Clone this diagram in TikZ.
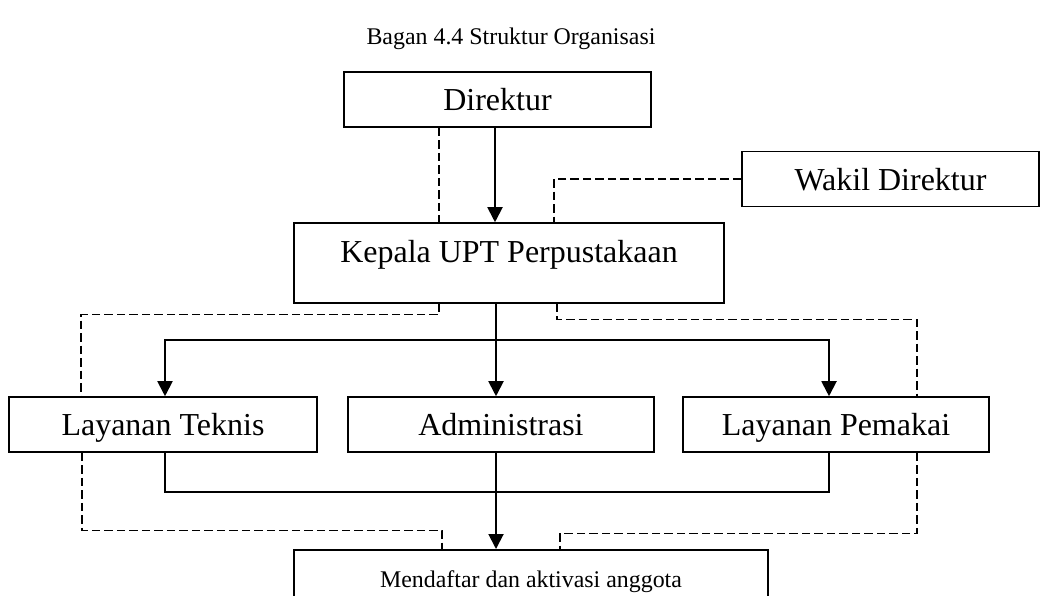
\documentclass[tikz,border=0pt]{standalone}
\usepackage{fontspec}
\setmainfont{Liberation Serif}
\usepackage{tikz}
\usetikzlibrary{positioning,arrows.meta,calc}

\newcommand{\bigtxt}{\fontsize{18.2pt}{22pt}\selectfont}
\newcommand{\smalltxt}{\fontsize{13.6pt}{16pt}\selectfont}

\begin{document}
\begin{tikzpicture}[
  unit/.style={draw,line width=0.9pt,inner sep=0pt,minimum height=1.1cm,text height=0.44cm,text depth=0pt,font=\bigtxt},
  link/.style={line width=1.1pt},
  flow/.style={-{Triangle[length=0.3cm,width=0.3cm]},line width=1.1pt},
  dotline/.style={line width=0.8pt,dash pattern=on 0.17cm off 0.08cm},
  x=0.02cm,y=-0.02cm]

  \useasboundingbox (0,0) rectangle (1040,595);
  \clip (0,0) rectangle (1040,595);

  \node[font=\smalltxt,anchor=base] (ttl) at (511,44) {Bagan 4.4 Struktur Organisasi};

  \node[unit,minimum width=6.14cm] (dir) at (497.5,99.5) {Direktur};
  \node[unit,minimum width=5.94cm] (wak) at (890.5,179) {Wakil Direktur};
  \node[unit,minimum width=8.6cm,minimum height=0pt,text height=0.78cm,text depth=0.82cm,anchor=base] (kep) at (509,262) {Kepala UPT Perpustakaan};

  \node[unit,minimum width=6.16cm] (lt) at (163,424.5) {Layanan Teknis};
  \node[unit,minimum width=6.12cm] (adm) at (501,424.5) {Administrasi};
  \node[unit,minimum width=6.12cm] (lp) at (836,424.5) {Layanan Pemakai};

  \node[unit,font=\smalltxt,minimum width=9.48cm,minimum height=0pt,text height=0.76cm,text depth=0.8cm,anchor=north] (mem) at (531,549) {Mendaftar dan aktivasi anggota};

  % titik bantu
  \coordinate (d1) at ($(dir.south)+(-2.5,0)$);
  \coordinate (d2) at ($(dir.south)+(-58.5,0)$);
  \coordinate (k1) at ($(kep.south)+(-13,0)$);
  \coordinate (k2) at ($(kep.south)+(-70,0)$);
  \coordinate (k3) at ($(kep.south)+(48,0)$);
  \coordinate (br) at ($(k1)+(0,36)$);
  \coordinate (a1) at ($(adm.south)+(-5,0)$);

  % garis komando
  \draw[flow] (d1) -- (d1 |- kep.north);
  \draw[flow] (k1) -- (k1 |- adm.north);
  \draw[flow] (br) -| ($(lt.north)+(2,0)$);
  \draw[flow] (br) -| ($(lp.north)+(-7,0)$);
  \draw[link] ($(lt.south)+(2,0)$) -- ++(0,39.5) -| ($(lp.south)+(-7,0)$);
  \draw[flow] (a1) -- (a1 |- mem.north);

  % garis koordinasi
  \draw[dotline] (d2) -- (d2 |- kep.north);
  \draw[dotline] (wak.west) -| ($(kep.north)+(45,0)$);
  \draw[dotline] (k2) -- ++(0,11) -| ($(lt.north)+(-82,0)$);
  \draw[dotline] (k3) -- ++(0,16) -| ($(lp.north)+(81,0)$);
  \draw[dotline] ($(lt.south)+(-81,0)$) -- ++(0,77.5) -| ($(mem.north)+(-89,0)$);
  \draw[dotline] ($(lp.south)+(81,0)$) -- ++(0,80.5) -| ($(mem.north)+(29,0)$);
\end{tikzpicture}
\end{document}
